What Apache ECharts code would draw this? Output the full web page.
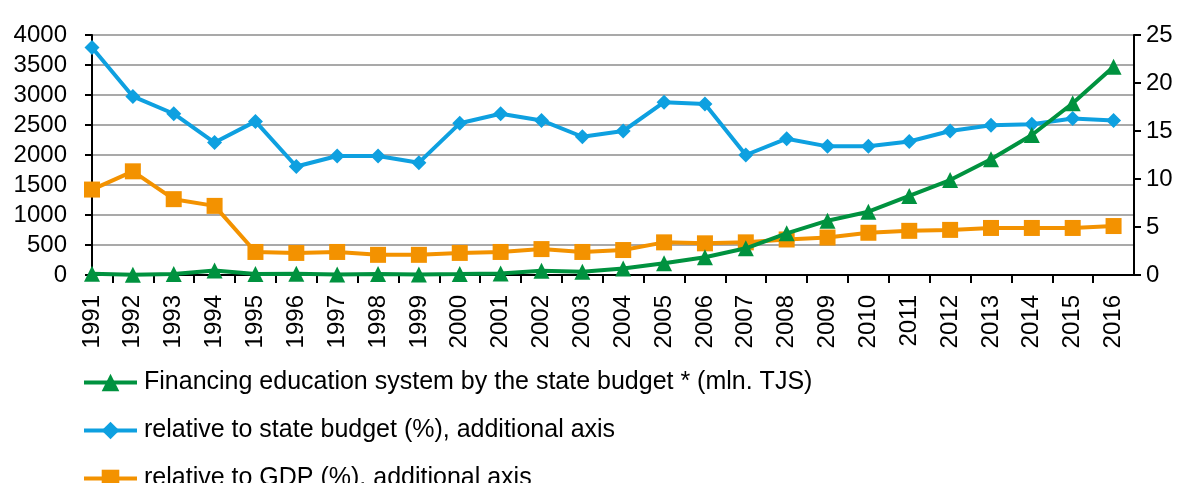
<!DOCTYPE html>
<html>
<head>
<meta charset="utf-8">
<script src="https://cdn.jsdelivr.net/npm/echarts@6/dist/echarts.min.js"></script>
<style>
  html, body { margin: 0; padding: 0; background: #fff; }
  #chart { width: 1177px; height: 483px; }
</style>
</head>
<body>
<div id="chart"></div>
<script>
// years on the x axis
var years = [1991, 1992, 1993, 1994, 1995, 1996, 1997, 1998, 1999, 2000, 2001, 2002, 2003,
  2004, 2005, 2006, 2007, 2008, 2009, 2010, 2011, 2012, 2013, 2014, 2015, 2016];

// mln. TJS, left axis
var financing = [20, 5, 15, 75, 15, 20, 10, 15, 10, 15, 25, 70, 55,
  110, 195, 295, 445, 695, 905, 1055, 1317, 1583, 1928, 2333, 2862, 3472];

// % of state budget, right axis
var budgetShare = [23.7, 18.6, 16.8, 13.8, 16.0, 11.3, 12.4, 12.4, 11.7, 15.8, 16.8, 16.1, 14.4,
  15.0, 18.0, 17.8, 12.5, 14.2, 13.4, 13.4, 13.9, 15.0, 15.6, 15.7, 16.3, 16.1];

// % of GDP, right axis
var gdpShare = [8.9, 10.8, 7.9, 7.2, 2.4, 2.3, 2.4, 2.1, 2.1, 2.3, 2.4, 2.7, 2.4,
  2.6, 3.4, 3.3, 3.4, 3.7, 3.9, 4.4, 4.6, 4.7, 4.9, 4.9, 4.9, 5.1];

var leftTicks = { min: 0, max: 4000, step: 500 };
var rightTicks = { min: 0, max: 25, step: 5 };

var names = [
  'Financing education system by the state budget * (mln. TJS)',
  'relative to state budget (%), additional axis',
  'relative to GDP (%), additional axis'
];

function pairs(vals) {
  return years.map(function (y, i) { return [y, vals[i]]; });
}

var font = '"Liberation Sans", Arial, sans-serif';
var chart = echarts.init(document.getElementById('chart'));

chart.setOption({
  animation: false,
  textStyle: { fontFamily: font, color: '#000' },
  grid: { left: 92, right: 43, top: 35, bottom: 208 },
  legend: {
    orient: 'vertical',
    left: 82,
    top: 370,
    height: 200,
    padding: 0,
    itemWidth: 53,
    itemHeight: 22,
    itemGap: 23,
    data: names,
    lineStyle: { width: 4 },
    textStyle: { fontFamily: font, fontSize: 25, color: '#000', padding: [0, 0, 0, 2] }
  },
  xAxis: {
    type: 'value',
    min: years[0],
    max: years[years.length - 1] + 0.5,
    interval: 1,
    splitLine: { show: false },
    axisLine: { lineStyle: { color: '#000', width: 2 } },
    axisTick: { show: false },
    minorTick: { show: true, splitNumber: 2, length: 8, lineStyle: { color: '#000', width: 2 } },
    axisLabel: {
      rotate: 90,
      margin: 20,
      fontSize: 24,
      color: '#000',
      showMaxLabel: false,
      formatter: function (v) { return v % 1 === 0 ? String(v) : ''; }
    }
  },
  yAxis: [
    {
      type: 'value',
      min: leftTicks.min,
      max: leftTicks.max,
      interval: leftTicks.step,
      axisLine: { show: true, lineStyle: { color: '#000', width: 2 } },
      axisTick: { show: true, length: 7, lineStyle: { color: '#000', width: 2 } },
      splitLine: { lineStyle: { color: '#8c8c8c', width: 1.5 } },
      axisLabel: { fontSize: 24, color: '#000', margin: 25, formatter: function (v) { return String(v); } }
    },
    {
      type: 'value',
      position: 'right',
      min: rightTicks.min,
      max: rightTicks.max,
      interval: rightTicks.step,
      axisLine: { show: true, lineStyle: { color: '#000', width: 2 } },
      axisTick: { show: true, length: 7, lineStyle: { color: '#000', width: 2 } },
      splitLine: { show: false },
      axisLabel: { fontSize: 24, color: '#000', margin: 12 }
    }
  ],
  series: [
    {
      name: names[1],
      type: 'line',
      yAxisIndex: 1,
      data: pairs(budgetShare),
      symbol: 'diamond',
      symbolSize: 15,
      lineStyle: { color: '#0ea0e0', width: 4 },
      itemStyle: { color: '#0ea0e0' },
      z: 2
    },
    {
      name: names[2],
      type: 'line',
      yAxisIndex: 1,
      data: pairs(gdpShare),
      symbol: 'rect',
      symbolSize: 16,
      lineStyle: { color: '#f39200', width: 4 },
      itemStyle: { color: '#f39200' },
      z: 3
    },
    {
      name: names[0],
      type: 'line',
      yAxisIndex: 0,
      data: pairs(financing),
      symbol: 'triangle',
      symbolSize: 16,
      lineStyle: { color: '#00923f', width: 4 },
      itemStyle: { color: '#00923f' },
      z: 4
    }
  ]
});
</script>
</body>
</html>
